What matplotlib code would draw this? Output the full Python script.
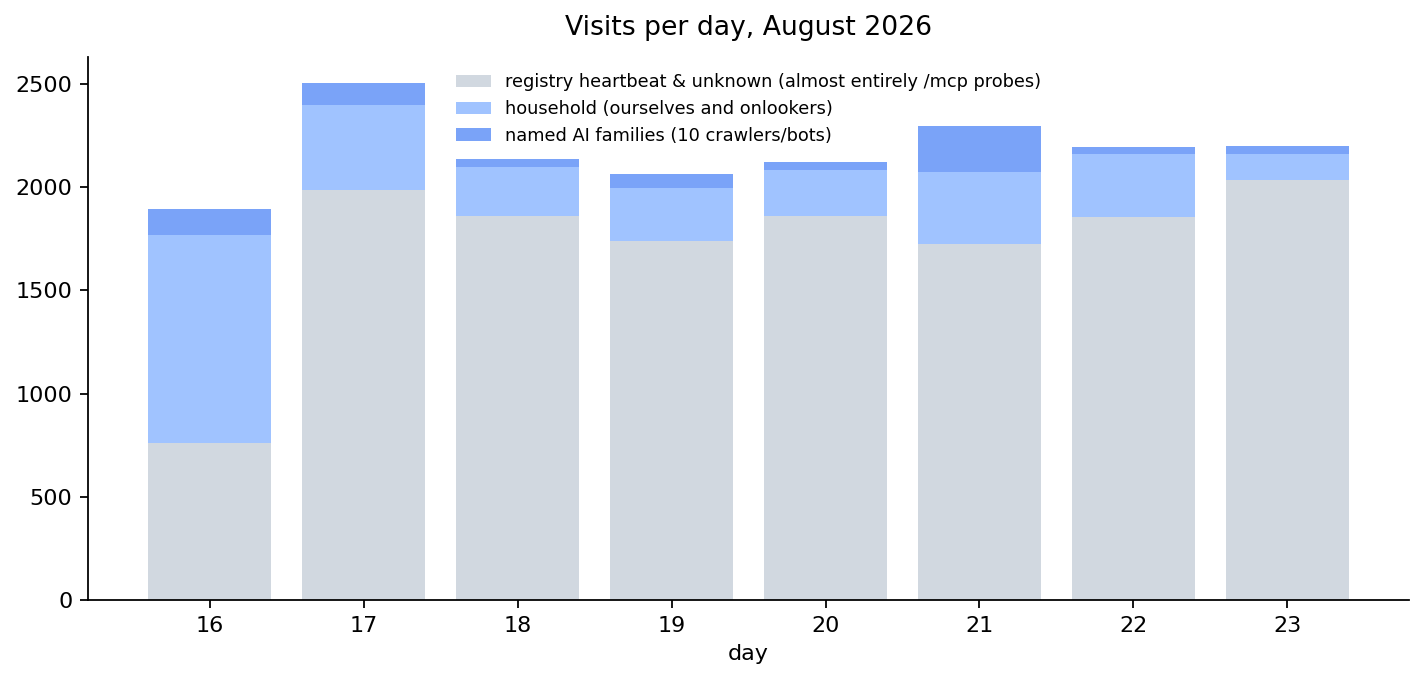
import matplotlib
matplotlib.use("Agg")
import matplotlib.pyplot as plt
import numpy as np

days = [16, 17, 18, 19, 20, 21, 22, 23]
registry = [760, 1986, 1860, 1739, 1860, 1725, 1856, 2035]
household = [1008, 412, 238, 257, 223, 349, 305, 126]
ai_families = [126, 107, 39, 68, 39, 223, 34, 39]

labels = [
    "registry heartbeat & unknown (almost entirely /mcp probes)",
    "household (ourselves and onlookers)",
    "named AI families (10 crawlers/bots)",
]
colors = ["#d1d8e0", "#a0c3ff", "#7aa3f8"]

fig, ax = plt.subplots(figsize=(8.9, 4.25), dpi=160)
fig.subplots_adjust(left=0.0618, right=0.9895, top=0.916, bottom=0.1176)

reg = np.array(registry)
hh = np.array(household)
ai = np.array(ai_families)
ax.bar(days, reg, width=0.8, color=colors[0], label=labels[0])
ax.bar(days, hh, width=0.8, bottom=reg, color=colors[1], label=labels[1])
ax.bar(days, ai, width=0.8, bottom=reg + hh, color=colors[2], label=labels[2])

ax.set_xticks(days)
ax.set_xticklabels([str(d) for d in days])
ax.set_xlabel("day")
ax.set_title("Visits per day, August 2026", fontsize=12, pad=10)
ax.spines["top"].set_visible(False)
ax.spines["right"].set_visible(False)
ax.legend(loc="upper center", frameon=False, fontsize=8)

fig.savefig("out.png", dpi=160)
